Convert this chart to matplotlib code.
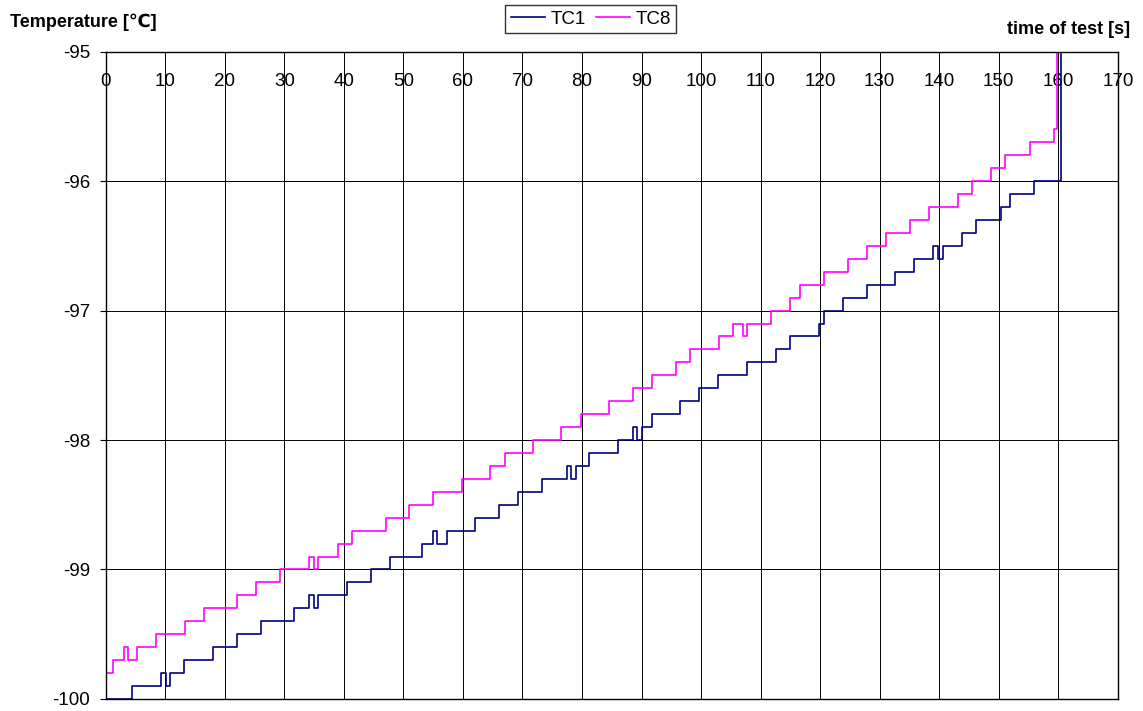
import matplotlib.pyplot as plt

# step change points: time [s], temperature [C]
tc1_time = [0, 4.4, 9.2, 10.1, 10.8, 13.2, 18.1, 22.1, 26.1, 31.6, 34.2, 34.9, 35.7, 40.5,
            44.5, 47.7, 53.2, 55.0, 55.7, 57.3, 62.1, 66.1, 69.3, 73.3, 77.4, 78.1, 79.0,
            81.2, 86.1, 88.5, 89.3, 90.1, 91.7, 96.5, 99.7, 102.9, 107.7, 112.5, 115.0,
            119.8, 120.6, 123.8, 127.8, 132.6, 135.8, 139.0, 139.8, 140.6, 143.9, 146.2,
            150.3, 151.9, 155.9, 160.5, 161]
tc1_temp = [-100.0, -99.9, -99.8, -99.9, -99.8, -99.7, -99.6, -99.5, -99.4, -99.3, -99.2, -99.3,
            -99.2, -99.1, -99.0, -98.9, -98.8, -98.7, -98.8, -98.7, -98.6, -98.5, -98.4, -98.3,
            -98.2, -98.3, -98.2, -98.1, -98.0, -97.9, -98.0, -97.9, -97.8, -97.7, -97.6, -97.5,
            -97.4, -97.3, -97.2, -97.1, -97.0, -96.9, -96.8, -96.7, -96.6, -96.5, -96.6, -96.5,
            -96.4, -96.3, -96.2, -96.1, -96.0, -94.0, -94.0]

tc8_time = [0, 1.3, 3.0, 3.7, 5.2, 8.5, 13.3, 16.5, 22.1, 25.3, 29.3, 34.2, 35.0, 35.7, 39.0,
            41.4, 47.0, 51.0, 55.0, 59.9, 64.6, 67.0, 71.8, 76.5, 79.8, 84.6, 88.6, 91.8,
            95.8, 98.2, 103.0, 105.4, 107.0, 107.7, 111.7, 114.9, 116.6, 120.6, 124.6, 127.9,
            131.1, 135.1, 138.3, 143.1, 145.5, 148.7, 151.1, 155.2, 159.2, 159.8, 160]
tc8_temp = [-99.8, -99.7, -99.6, -99.7, -99.6, -99.5, -99.4, -99.3, -99.2, -99.1, -99.0, -98.9,
            -99.0, -98.9, -98.8, -98.7, -98.6, -98.5, -98.4, -98.3, -98.2, -98.1, -98.0, -97.9,
            -97.8, -97.7, -97.6, -97.5, -97.4, -97.3, -97.2, -97.1, -97.2, -97.1, -97.0, -96.9,
            -96.8, -96.7, -96.6, -96.5, -96.4, -96.3, -96.2, -96.1, -96.0, -95.9, -95.8, -95.7,
            -95.6, -94.0, -94.0]

x_ticks = list(range(0, 171, 10))
y_ticks = [-100, -99, -98, -97, -96, -95]

plt.rcParams['font.family'] = ['Liberation Sans', 'DejaVu Sans']
plt.rcParams['axes.unicode_minus'] = False

fig = plt.figure(figsize=(11.43, 7.11), dpi=100)
ax = fig.add_axes([0.0925, 0.017, 0.8855, 0.9103])

ax.plot(tc1_time, tc1_temp, drawstyle='steps-post', color='#000080', lw=1.2, label='TC1')
ax.plot(tc8_time, tc8_temp, drawstyle='steps-post', color='#FF00FF', lw=1.2, label='TC8')

ax.set_xlim(0, 170)
ax.set_ylim(-100, -95)
ax.set_xticks(x_ticks)
ax.set_yticks(y_ticks)
ax.grid(True, color='black', lw=0.7)
ax.set_axisbelow(True)

# x labels sit inside the plot, just under the top edge
ax.xaxis.tick_top()
ax.tick_params(axis='x', length=0, pad=-15, labelsize=13.5)
for lab in ax.get_xticklabels():
    lab.set_verticalalignment('top')
ax.tick_params(axis='y', direction='out', length=4.3, pad=7, labelsize=13.5)

for s in ax.spines.values():
    s.set_color('black')
    s.set_linewidth(1.0)

fig.text(0.009, 0.969, 'Temperature [℃]', fontsize=13, fontweight='bold', va='center', ha='left')
fig.text(0.989, 0.958, 'time of test [s]', fontsize=13, fontweight='bold', va='center', ha='right')

leg = fig.legend(loc='upper center', bbox_to_anchor=(0.517, 0.993), ncol=2, fontsize=13.5,
                 frameon=True, fancybox=False, edgecolor='black', borderpad=0.3,
                 handlelength=1.8, handletextpad=0.3, columnspacing=0.55, borderaxespad=0)
leg.get_frame().set_linewidth(1.0)

fig.savefig('out.png', dpi=100)
